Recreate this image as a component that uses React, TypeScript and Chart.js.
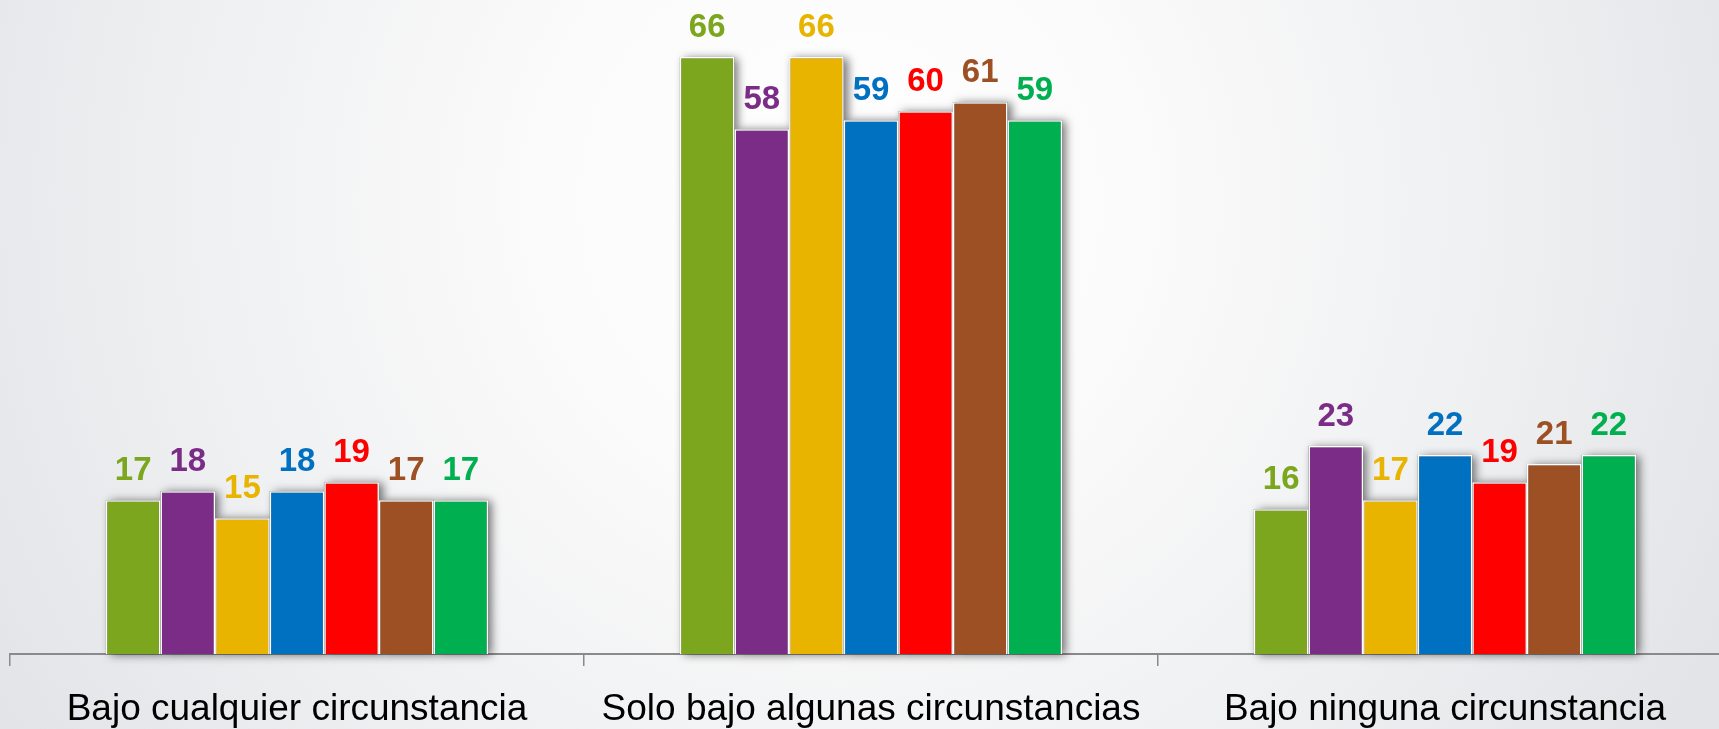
import React, { useEffect, useRef } from "react";
import { Chart, registerables } from "chart.js";

Chart.register(...registerables);

const categories = [
  "Bajo cualquier circunstancia",
  "Solo bajo algunas circunstancias",
  "Bajo ninguna circunstancia",
];

const seriesNames = ["Serie 1", "Serie 2", "Serie 3", "Serie 4", "Serie 5", "Serie 6", "Serie 7"];
const serie1 = [17, 66, 16];
const serie2 = [18, 58, 23];
const serie3 = [15, 66, 17];
const serie4 = [18, 59, 22];
const serie5 = [19, 60, 19];
const serie6 = [17, 61, 21];
const serie7 = [17, 59, 22];
const seriesValues = [serie1, serie2, serie3, serie4, serie5, serie6, serie7];
const seriesColors = ["#7BA61E", "#7B2C87", "#E8B400", "#0070C0", "#FF0000", "#9C5023", "#00B050"];

const backgroundPlugin = {
  id: "bgGradient",
  beforeDraw(chart: any) {
    const { ctx, width, height } = chart;
    ctx.save();
    const g = ctx.createRadialGradient(840, 200, 0, 840, 200, 980);
    g.addColorStop(0, "#ffffff");
    g.addColorStop(0.3, "#fbfbfb");
    g.addColorStop(0.7, "#eeeff1");
    g.addColorStop(1, "#e3e4e7");
    ctx.fillStyle = g;
    ctx.fillRect(0, 0, width, height);
    ctx.restore();
  },
};

const shadowPlugin = {
  id: "barShadow",
  beforeDatasetsDraw(chart: any) {
    const { ctx } = chart;
    ctx.save();
    ctx.shadowColor = "rgba(0,0,0,0.55)";
    ctx.shadowBlur = 9;
    ctx.shadowOffsetX = 4;
    ctx.shadowOffsetY = 1;
    ctx.fillStyle = "rgba(120,120,120,1)";
    chart.data.datasets.forEach((_: any, i: number) => {
      const meta = chart.getDatasetMeta(i);
      meta.data.forEach((bar: any) => {
        const p = bar.getProps(["x", "y", "base", "width"], true);
        ctx.fillRect(p.x - p.width / 2, p.y, p.width, p.base - p.y);
      });
    });
    ctx.restore();
  },
};

const valueLabelPlugin = {
  id: "valueLabels",
  afterDatasetsDraw(chart: any) {
    const { ctx } = chart;
    ctx.save();
    ctx.font = 'bold 33px "Liberation Sans", Arial, sans-serif';
    ctx.textAlign = "center";
    ctx.textBaseline = "alphabetic";
    chart.data.datasets.forEach((ds: any, i: number) => {
      const meta = chart.getDatasetMeta(i);
      meta.data.forEach((bar: any, j: number) => {
        const p = bar.getProps(["x", "y"], true);
        ctx.fillStyle = ds.backgroundColor;
        ctx.fillText(String(ds.data[j]), p.x, p.y - 20);
      });
    });
    ctx.restore();
  },
};

export default function App() {
  const ref = useRef<HTMLCanvasElement | null>(null);

  useEffect(() => {
    if (!ref.current) return;
    const chart = new Chart(ref.current, {
      type: "bar",
      data: {
        labels: categories,
        datasets: seriesValues.map((vals, i) => ({
          label: seriesNames[i],
          data: vals,
          backgroundColor: seriesColors[i],
          borderColor: "#ffffff",
          borderWidth: 1.5,
          categoryPercentage: 0.666,
          barPercentage: 1,
        })),
      },
      options: {
        responsive: false,
        animation: false,
        devicePixelRatio: 1,
        layout: { padding: { left: 10, right: 8, top: 0, bottom: 0 } },
        plugins: {
          legend: { display: false },
          tooltip: { enabled: false },
        },
        scales: {
          y: {
            display: false,
            min: 0,
            max: 72.3,
          },
          x: {
            afterFit(scale: any) {
              scale.height = 75;
            },
            grid: {
              display: true,
              offset: true,
              drawOnChartArea: false,
              drawTicks: true,
              tickLength: 12,
              color: "#8a8a8a",
              lineWidth: 1.5,
            },
            border: { display: true, color: "#8a8a8a", width: 2 },
            ticks: {
              color: "#000000",
              padding: 22,
              maxRotation: 0,
              autoSkip: false,
              font: { family: '"Liberation Sans", Arial, sans-serif', size: 37 },
            },
          },
        },
      },
      plugins: [backgroundPlugin, shadowPlugin, valueLabelPlugin],
    });
    return () => chart.destroy();
  }, []);

  return (
    <div
      style={{
        position: "fixed",
        left: 0,
        top: 0,
        width: 1719,
        height: 729,
        overflow: "hidden",
        background: "#e8e9eb",
      }}
    >
      <canvas ref={ref} width={1740} height={729} style={{ display: "block", width: 1740, height: 729 }} />
    </div>
  );
}
